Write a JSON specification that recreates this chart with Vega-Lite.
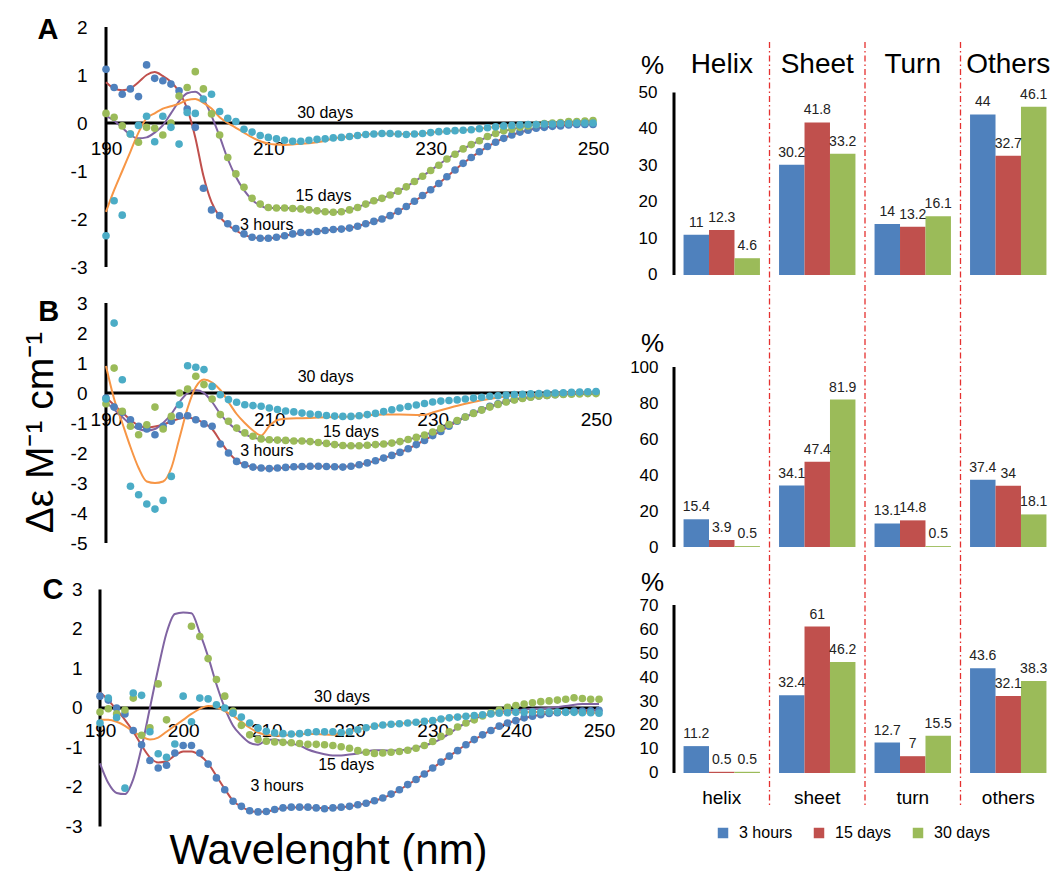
{
"$schema": "https://vega.github.io/schema/vega-lite/v6.json",
"padding": {"left": 20, "top": 15, "right": 0, "bottom": 0},
"background": "white",
"config": {"view": {"stroke": null}, "font": "Liberation Sans", "axis": {"labelColor": "black", "titleColor": "black", "labelFont": "Liberation Sans", "titleFont": "Liberation Sans", "labelOverlap": false}, "legend": {"labelFont": "Liberation Sans", "labelColor": "black"}, "text": {"font": "Liberation Sans"}},
"datasets": {
"cdA": [
{"s":"3h","x":190,"y":1.12},{"s":"3h","x":191,"y":0.74},{"s":"3h","x":192,"y":0.6},{"s":"3h","x":193,"y":0.71},{"s":"3h","x":194,"y":0.55},{"s":"3h","x":195,"y":1.21},{"s":"3h","x":196,"y":0.93},{"s":"3h","x":197,"y":0.88},{"s":"3h","x":198,"y":0.81},{"s":"3h","x":199,"y":0.67},{"s":"3h","x":200,"y":0.29},{"s":"3h","x":201,"y":-0.09},{"s":"3h","x":202,"y":-1.36},{"s":"3h","x":203,"y":-1.81},{"s":"3h","x":204,"y":-1.93},{"s":"3h","x":205,"y":-2.1},{"s":"3h","x":206,"y":-2.2},{"s":"3h","x":207,"y":-2.31},{"s":"3h","x":208,"y":-2.38},{"s":"3h","x":209,"y":-2.4},{"s":"3h","x":210,"y":-2.4},{"s":"3h","x":211,"y":-2.38},{"s":"3h","x":212,"y":-2.35},{"s":"3h","x":213,"y":-2.31},{"s":"3h","x":214,"y":-2.28},{"s":"3h","x":215,"y":-2.28},{"s":"3h","x":216,"y":-2.26},{"s":"3h","x":217,"y":-2.24},{"s":"3h","x":218,"y":-2.22},{"s":"3h","x":219,"y":-2.21},{"s":"3h","x":220,"y":-2.19},{"s":"3h","x":221,"y":-2.15},{"s":"3h","x":222,"y":-2.1},{"s":"3h","x":223,"y":-2.05},{"s":"3h","x":224,"y":-2.0},{"s":"3h","x":225,"y":-1.93},{"s":"3h","x":226,"y":-1.84},{"s":"3h","x":227,"y":-1.74},{"s":"3h","x":228,"y":-1.63},{"s":"3h","x":229,"y":-1.51},{"s":"3h","x":230,"y":-1.39},{"s":"3h","x":231,"y":-1.26},{"s":"3h","x":232,"y":-1.12},{"s":"3h","x":233,"y":-0.98},{"s":"3h","x":234,"y":-0.84},{"s":"3h","x":235,"y":-0.72},{"s":"3h","x":236,"y":-0.6},{"s":"3h","x":237,"y":-0.49},{"s":"3h","x":238,"y":-0.4},{"s":"3h","x":239,"y":-0.32},{"s":"3h","x":240,"y":-0.25},{"s":"3h","x":241,"y":-0.19},{"s":"3h","x":242,"y":-0.15},{"s":"3h","x":243,"y":-0.11},{"s":"3h","x":244,"y":-0.09},{"s":"3h","x":245,"y":-0.07},{"s":"3h","x":246,"y":-0.06},{"s":"3h","x":247,"y":-0.04},{"s":"3h","x":248,"y":-0.03},{"s":"3h","x":249,"y":-0.03},{"s":"3h","x":250,"y":-0.03},
{"s":"f3h","x":190,"y":0.85},{"s":"f3h","x":191,"y":0.72},{"s":"f3h","x":192,"y":0.68},{"s":"f3h","x":193,"y":0.72},{"s":"f3h","x":194,"y":0.85},{"s":"f3h","x":195,"y":1.0},{"s":"f3h","x":196,"y":1.06},{"s":"f3h","x":197,"y":0.98},{"s":"f3h","x":198,"y":0.86},{"s":"f3h","x":199,"y":0.65},{"s":"f3h","x":200,"y":0.3},{"s":"f3h","x":201,"y":-0.3},{"s":"f3h","x":202,"y":-1.1},{"s":"f3h","x":203,"y":-1.65},{"s":"f3h","x":204,"y":-1.95},{"s":"f3h","x":205,"y":-2.12},{"s":"f3h","x":206,"y":-2.24},{"s":"f3h","x":207,"y":-2.33},{"s":"f3h","x":208,"y":-2.38},{"s":"f3h","x":209,"y":-2.4},{"s":"f3h","x":210,"y":-2.4},{"s":"f3h","x":212,"y":-2.35},{"s":"f3h","x":214,"y":-2.29},{"s":"f3h","x":216,"y":-2.26},{"s":"f3h","x":218,"y":-2.22},{"s":"f3h","x":220,"y":-2.19},{"s":"f3h","x":222,"y":-2.1},{"s":"f3h","x":224,"y":-2.0},{"s":"f3h","x":226,"y":-1.84},{"s":"f3h","x":228,"y":-1.63},{"s":"f3h","x":230,"y":-1.39},{"s":"f3h","x":232,"y":-1.12},{"s":"f3h","x":234,"y":-0.84},{"s":"f3h","x":236,"y":-0.6},{"s":"f3h","x":238,"y":-0.4},{"s":"f3h","x":240,"y":-0.25},{"s":"f3h","x":242,"y":-0.15},{"s":"f3h","x":244,"y":-0.09},{"s":"f3h","x":246,"y":-0.06},{"s":"f3h","x":248,"y":-0.03},{"s":"f3h","x":250,"y":-0.03},
{"s":"15d","x":190,"y":0.2},{"s":"15d","x":191,"y":0.12},{"s":"15d","x":192,"y":-0.06},{"s":"15d","x":193,"y":-0.23},{"s":"15d","x":194,"y":-0.4},{"s":"15d","x":195,"y":-0.09},{"s":"15d","x":196,"y":-0.11},{"s":"15d","x":197,"y":-0.25},{"s":"15d","x":198,"y":0.0},{"s":"15d","x":199,"y":0.56},{"s":"15d","x":200,"y":0.74},{"s":"15d","x":201,"y":1.07},{"s":"15d","x":202,"y":0.71},{"s":"15d","x":203,"y":0.19},{"s":"15d","x":204,"y":-0.25},{"s":"15d","x":205,"y":-0.72},{"s":"15d","x":206,"y":-1.06},{"s":"15d","x":207,"y":-1.34},{"s":"15d","x":208,"y":-1.57},{"s":"15d","x":209,"y":-1.69},{"s":"15d","x":210,"y":-1.76},{"s":"15d","x":211,"y":-1.77},{"s":"15d","x":212,"y":-1.77},{"s":"15d","x":213,"y":-1.78},{"s":"15d","x":214,"y":-1.79},{"s":"15d","x":215,"y":-1.81},{"s":"15d","x":216,"y":-1.83},{"s":"15d","x":217,"y":-1.85},{"s":"15d","x":218,"y":-1.86},{"s":"15d","x":219,"y":-1.85},{"s":"15d","x":220,"y":-1.81},{"s":"15d","x":221,"y":-1.76},{"s":"15d","x":222,"y":-1.69},{"s":"15d","x":223,"y":-1.62},{"s":"15d","x":224,"y":-1.57},{"s":"15d","x":225,"y":-1.5},{"s":"15d","x":226,"y":-1.42},{"s":"15d","x":227,"y":-1.33},{"s":"15d","x":228,"y":-1.22},{"s":"15d","x":229,"y":-1.11},{"s":"15d","x":230,"y":-0.99},{"s":"15d","x":231,"y":-0.88},{"s":"15d","x":232,"y":-0.75},{"s":"15d","x":233,"y":-0.65},{"s":"15d","x":234,"y":-0.54},{"s":"15d","x":235,"y":-0.45},{"s":"15d","x":236,"y":-0.37},{"s":"15d","x":237,"y":-0.28},{"s":"15d","x":238,"y":-0.22},{"s":"15d","x":239,"y":-0.16},{"s":"15d","x":240,"y":-0.13},{"s":"15d","x":241,"y":-0.09},{"s":"15d","x":242,"y":-0.06},{"s":"15d","x":243,"y":-0.03},{"s":"15d","x":244,"y":-0.01},{"s":"15d","x":245,"y":0},{"s":"15d","x":246,"y":0.01},{"s":"15d","x":247,"y":0.03},{"s":"15d","x":248,"y":0.03},{"s":"15d","x":249,"y":0.04},{"s":"15d","x":250,"y":0.05},
{"s":"f15d","x":190,"y":0.15},{"s":"f15d","x":191,"y":0.05},{"s":"f15d","x":192,"y":-0.1},{"s":"f15d","x":193,"y":-0.25},{"s":"f15d","x":194,"y":-0.32},{"s":"f15d","x":195,"y":-0.3},{"s":"f15d","x":196,"y":-0.2},{"s":"f15d","x":197,"y":-0.05},{"s":"f15d","x":198,"y":0.2},{"s":"f15d","x":199,"y":0.45},{"s":"f15d","x":200,"y":0.62},{"s":"f15d","x":201,"y":0.65},{"s":"f15d","x":202,"y":0.5},{"s":"f15d","x":203,"y":0.15},{"s":"f15d","x":204,"y":-0.28},{"s":"f15d","x":205,"y":-0.75},{"s":"f15d","x":206,"y":-1.12},{"s":"f15d","x":207,"y":-1.4},{"s":"f15d","x":208,"y":-1.6},{"s":"f15d","x":209,"y":-1.72},{"s":"f15d","x":210,"y":-1.77},{"s":"f15d","x":212,"y":-1.77},{"s":"f15d","x":214,"y":-1.79},{"s":"f15d","x":216,"y":-1.83},{"s":"f15d","x":218,"y":-1.86},{"s":"f15d","x":220,"y":-1.81},{"s":"f15d","x":222,"y":-1.69},{"s":"f15d","x":224,"y":-1.57},{"s":"f15d","x":226,"y":-1.42},{"s":"f15d","x":228,"y":-1.22},{"s":"f15d","x":230,"y":-0.99},{"s":"f15d","x":232,"y":-0.75},{"s":"f15d","x":234,"y":-0.54},{"s":"f15d","x":236,"y":-0.37},{"s":"f15d","x":238,"y":-0.22},{"s":"f15d","x":240,"y":-0.13},{"s":"f15d","x":242,"y":-0.06},{"s":"f15d","x":244,"y":-0.01},{"s":"f15d","x":246,"y":0.01},{"s":"f15d","x":248,"y":0.03},{"s":"f15d","x":250,"y":0.05},
{"s":"30d","x":190,"y":-2.35},{"s":"30d","x":191,"y":-1.62},{"s":"30d","x":192,"y":-1.92},{"s":"30d","x":193,"y":-0.23},{"s":"30d","x":194,"y":-0.05},{"s":"30d","x":195,"y":0.14},{"s":"30d","x":196,"y":-0.39},{"s":"30d","x":197,"y":0.14},{"s":"30d","x":198,"y":-0.09},{"s":"30d","x":199,"y":-0.44},{"s":"30d","x":200,"y":0.22},{"s":"30d","x":201,"y":0.2},{"s":"30d","x":202,"y":0.5},{"s":"30d","x":203,"y":0.6},{"s":"30d","x":204,"y":0.24},{"s":"30d","x":205,"y":0.1},{"s":"30d","x":206,"y":0.03},{"s":"30d","x":207,"y":-0.13},{"s":"30d","x":208,"y":-0.19},{"s":"30d","x":209,"y":-0.26},{"s":"30d","x":210,"y":-0.3},{"s":"30d","x":211,"y":-0.33},{"s":"30d","x":212,"y":-0.36},{"s":"30d","x":213,"y":-0.38},{"s":"30d","x":214,"y":-0.38},{"s":"30d","x":215,"y":-0.36},{"s":"30d","x":216,"y":-0.34},{"s":"30d","x":217,"y":-0.33},{"s":"30d","x":218,"y":-0.31},{"s":"30d","x":219,"y":-0.3},{"s":"30d","x":220,"y":-0.28},{"s":"30d","x":221,"y":-0.26},{"s":"30d","x":222,"y":-0.24},{"s":"30d","x":223,"y":-0.23},{"s":"30d","x":224,"y":-0.22},{"s":"30d","x":225,"y":-0.22},{"s":"30d","x":226,"y":-0.23},{"s":"30d","x":227,"y":-0.24},{"s":"30d","x":228,"y":-0.23},{"s":"30d","x":229,"y":-0.22},{"s":"30d","x":230,"y":-0.2},{"s":"30d","x":231,"y":-0.18},{"s":"30d","x":232,"y":-0.17},{"s":"30d","x":233,"y":-0.16},{"s":"30d","x":234,"y":-0.15},{"s":"30d","x":235,"y":-0.14},{"s":"30d","x":236,"y":-0.12},{"s":"30d","x":237,"y":-0.1},{"s":"30d","x":238,"y":-0.08},{"s":"30d","x":239,"y":-0.06},{"s":"30d","x":240,"y":-0.05},{"s":"30d","x":241,"y":-0.04},{"s":"30d","x":242,"y":-0.03},{"s":"30d","x":243,"y":-0.03},{"s":"30d","x":244,"y":-0.02},{"s":"30d","x":245,"y":-0.02},{"s":"30d","x":246,"y":-0.01},{"s":"30d","x":247,"y":-0.01},{"s":"30d","x":248,"y":0},{"s":"30d","x":249,"y":0},{"s":"30d","x":250,"y":0},
{"s":"f30d","x":190,"y":-1.85},{"s":"f30d","x":191,"y":-1.4},{"s":"f30d","x":192,"y":-1.0},{"s":"f30d","x":193,"y":-0.6},{"s":"f30d","x":194,"y":-0.2},{"s":"f30d","x":195,"y":0.1},{"s":"f30d","x":196,"y":0.2},{"s":"f30d","x":197,"y":0.3},{"s":"f30d","x":198,"y":0.35},{"s":"f30d","x":199,"y":0.4},{"s":"f30d","x":200,"y":0.48},{"s":"f30d","x":201,"y":0.5},{"s":"f30d","x":202,"y":0.42},{"s":"f30d","x":203,"y":0.3},{"s":"f30d","x":204,"y":0.12},{"s":"f30d","x":205,"y":0.0},{"s":"f30d","x":206,"y":-0.1},{"s":"f30d","x":207,"y":-0.2},{"s":"f30d","x":208,"y":-0.3},{"s":"f30d","x":209,"y":-0.38},{"s":"f30d","x":210,"y":-0.43},{"s":"f30d","x":211,"y":-0.45},{"s":"f30d","x":212,"y":-0.46},{"s":"f30d","x":213,"y":-0.45},{"s":"f30d","x":214,"y":-0.43},{"s":"f30d","x":215,"y":-0.42},{"s":"f30d","x":216,"y":-0.4},{"s":"f30d","x":217,"y":-0.37},{"s":"f30d","x":218,"y":-0.32},{"s":"f30d","x":220,"y":-0.28},{"s":"f30d","x":222,"y":-0.24},{"s":"f30d","x":224,"y":-0.22},{"s":"f30d","x":226,"y":-0.23},{"s":"f30d","x":228,"y":-0.23},{"s":"f30d","x":230,"y":-0.2},{"s":"f30d","x":232,"y":-0.17},{"s":"f30d","x":234,"y":-0.15},{"s":"f30d","x":236,"y":-0.12},{"s":"f30d","x":238,"y":-0.08},{"s":"f30d","x":240,"y":-0.05},{"s":"f30d","x":243,"y":-0.03},{"s":"f30d","x":246,"y":-0.01},{"s":"f30d","x":250,"y":0}
],
"cdB": [
{"s":"3h","x":190,"y":-0.17},{"s":"3h","x":191,"y":-0.47},{"s":"3h","x":192,"y":-0.64},{"s":"3h","x":193,"y":-0.89},{"s":"3h","x":194,"y":-1.11},{"s":"3h","x":195,"y":-1.2},{"s":"3h","x":196,"y":-1.39},{"s":"3h","x":197,"y":-1.11},{"s":"3h","x":198,"y":-0.94},{"s":"3h","x":199,"y":-0.76},{"s":"3h","x":200,"y":-0.76},{"s":"3h","x":201,"y":-0.89},{"s":"3h","x":202,"y":-1.03},{"s":"3h","x":203,"y":-1.11},{"s":"3h","x":204,"y":-1.7},{"s":"3h","x":205,"y":-2.0},{"s":"3h","x":206,"y":-2.28},{"s":"3h","x":207,"y":-2.39},{"s":"3h","x":208,"y":-2.47},{"s":"3h","x":209,"y":-2.5},{"s":"3h","x":210,"y":-2.52},{"s":"3h","x":211,"y":-2.5},{"s":"3h","x":212,"y":-2.48},{"s":"3h","x":213,"y":-2.46},{"s":"3h","x":214,"y":-2.45},{"s":"3h","x":215,"y":-2.44},{"s":"3h","x":216,"y":-2.44},{"s":"3h","x":217,"y":-2.45},{"s":"3h","x":218,"y":-2.46},{"s":"3h","x":219,"y":-2.47},{"s":"3h","x":220,"y":-2.44},{"s":"3h","x":221,"y":-2.39},{"s":"3h","x":222,"y":-2.33},{"s":"3h","x":223,"y":-2.26},{"s":"3h","x":224,"y":-2.17},{"s":"3h","x":225,"y":-2.08},{"s":"3h","x":226,"y":-1.98},{"s":"3h","x":227,"y":-1.86},{"s":"3h","x":228,"y":-1.72},{"s":"3h","x":229,"y":-1.58},{"s":"3h","x":230,"y":-1.42},{"s":"3h","x":231,"y":-1.28},{"s":"3h","x":232,"y":-1.11},{"s":"3h","x":233,"y":-0.94},{"s":"3h","x":234,"y":-0.8},{"s":"3h","x":235,"y":-0.67},{"s":"3h","x":236,"y":-0.56},{"s":"3h","x":237,"y":-0.44},{"s":"3h","x":238,"y":-0.36},{"s":"3h","x":239,"y":-0.28},{"s":"3h","x":240,"y":-0.22},{"s":"3h","x":241,"y":-0.17},{"s":"3h","x":242,"y":-0.13},{"s":"3h","x":243,"y":-0.1},{"s":"3h","x":244,"y":-0.08},{"s":"3h","x":245,"y":-0.06},{"s":"3h","x":246,"y":-0.03},{"s":"3h","x":247,"y":-0.02},{"s":"3h","x":248,"y":-0.01},{"s":"3h","x":249,"y":0},{"s":"3h","x":250,"y":0.02},
{"s":"f3h","x":190,"y":-0.15},{"s":"f3h","x":191,"y":-0.4},{"s":"f3h","x":192,"y":-0.65},{"s":"f3h","x":193,"y":-0.9},{"s":"f3h","x":194,"y":-1.08},{"s":"f3h","x":195,"y":-1.15},{"s":"f3h","x":196,"y":-1.12},{"s":"f3h","x":197,"y":-1.05},{"s":"f3h","x":198,"y":-0.95},{"s":"f3h","x":199,"y":-0.85},{"s":"f3h","x":200,"y":-0.82},{"s":"f3h","x":201,"y":-0.88},{"s":"f3h","x":202,"y":-1.0},{"s":"f3h","x":203,"y":-1.2},{"s":"f3h","x":204,"y":-1.6},{"s":"f3h","x":205,"y":-1.98},{"s":"f3h","x":206,"y":-2.25},{"s":"f3h","x":207,"y":-2.4},{"s":"f3h","x":208,"y":-2.47},{"s":"f3h","x":209,"y":-2.5},{"s":"f3h","x":210,"y":-2.52},{"s":"f3h","x":212,"y":-2.48},{"s":"f3h","x":214,"y":-2.45},{"s":"f3h","x":216,"y":-2.44},{"s":"f3h","x":218,"y":-2.46},{"s":"f3h","x":220,"y":-2.44},{"s":"f3h","x":222,"y":-2.33},{"s":"f3h","x":224,"y":-2.17},{"s":"f3h","x":226,"y":-1.98},{"s":"f3h","x":228,"y":-1.72},{"s":"f3h","x":230,"y":-1.42},{"s":"f3h","x":232,"y":-1.11},{"s":"f3h","x":234,"y":-0.8},{"s":"f3h","x":236,"y":-0.56},{"s":"f3h","x":238,"y":-0.36},{"s":"f3h","x":240,"y":-0.22},{"s":"f3h","x":242,"y":-0.13},{"s":"f3h","x":244,"y":-0.08},{"s":"f3h","x":246,"y":-0.03},{"s":"f3h","x":248,"y":-0.01},{"s":"f3h","x":250,"y":0.02},
{"s":"15d","x":190,"y":-0.36},{"s":"15d","x":191,"y":0.83},{"s":"15d","x":192,"y":-0.61},{"s":"15d","x":193,"y":-1.11},{"s":"15d","x":194,"y":-1.39},{"s":"15d","x":195,"y":-1.06},{"s":"15d","x":196,"y":-0.47},{"s":"15d","x":197,"y":-1.2},{"s":"15d","x":198,"y":-0.78},{"s":"15d","x":199,"y":0},{"s":"15d","x":200,"y":0.13},{"s":"15d","x":201,"y":0.56},{"s":"15d","x":202,"y":0.28},{"s":"15d","x":203,"y":-0.2},{"s":"15d","x":204,"y":-0.72},{"s":"15d","x":205,"y":-0.94},{"s":"15d","x":206,"y":-1.17},{"s":"15d","x":207,"y":-1.33},{"s":"15d","x":208,"y":-1.44},{"s":"15d","x":209,"y":-1.53},{"s":"15d","x":210,"y":-1.56},{"s":"15d","x":211,"y":-1.57},{"s":"15d","x":212,"y":-1.58},{"s":"15d","x":213,"y":-1.6},{"s":"15d","x":214,"y":-1.6},{"s":"15d","x":215,"y":-1.62},{"s":"15d","x":216,"y":-1.65},{"s":"15d","x":217,"y":-1.68},{"s":"15d","x":218,"y":-1.72},{"s":"15d","x":219,"y":-1.75},{"s":"15d","x":220,"y":-1.76},{"s":"15d","x":221,"y":-1.76},{"s":"15d","x":222,"y":-1.74},{"s":"15d","x":223,"y":-1.72},{"s":"15d","x":224,"y":-1.7},{"s":"15d","x":225,"y":-1.67},{"s":"15d","x":226,"y":-1.62},{"s":"15d","x":227,"y":-1.55},{"s":"15d","x":228,"y":-1.48},{"s":"15d","x":229,"y":-1.4},{"s":"15d","x":230,"y":-1.3},{"s":"15d","x":231,"y":-1.18},{"s":"15d","x":232,"y":-1.05},{"s":"15d","x":233,"y":-0.92},{"s":"15d","x":234,"y":-0.8},{"s":"15d","x":235,"y":-0.68},{"s":"15d","x":236,"y":-0.57},{"s":"15d","x":237,"y":-0.47},{"s":"15d","x":238,"y":-0.38},{"s":"15d","x":239,"y":-0.3},{"s":"15d","x":240,"y":-0.23},{"s":"15d","x":241,"y":-0.18},{"s":"15d","x":242,"y":-0.14},{"s":"15d","x":243,"y":-0.1},{"s":"15d","x":244,"y":-0.08},{"s":"15d","x":245,"y":-0.06},{"s":"15d","x":246,"y":-0.05},{"s":"15d","x":247,"y":-0.04},{"s":"15d","x":248,"y":-0.03},{"s":"15d","x":249,"y":-0.02},{"s":"15d","x":250,"y":-0.02},
{"s":"f15d","x":190,"y":-0.3},{"s":"f15d","x":191,"y":-0.55},{"s":"f15d","x":192,"y":-0.8},{"s":"f15d","x":193,"y":-1.05},{"s":"f15d","x":194,"y":-1.2},{"s":"f15d","x":195,"y":-1.25},{"s":"f15d","x":196,"y":-1.2},{"s":"f15d","x":197,"y":-1.0},{"s":"f15d","x":198,"y":-0.7},{"s":"f15d","x":199,"y":-0.3},{"s":"f15d","x":200,"y":0.0},{"s":"f15d","x":201,"y":0.1},{"s":"f15d","x":202,"y":0.0},{"s":"f15d","x":203,"y":-0.3},{"s":"f15d","x":204,"y":-0.7},{"s":"f15d","x":205,"y":-1.0},{"s":"f15d","x":206,"y":-1.22},{"s":"f15d","x":207,"y":-1.38},{"s":"f15d","x":208,"y":-1.48},{"s":"f15d","x":209,"y":-1.54},{"s":"f15d","x":210,"y":-1.56},{"s":"f15d","x":212,"y":-1.58},{"s":"f15d","x":214,"y":-1.6},{"s":"f15d","x":216,"y":-1.65},{"s":"f15d","x":218,"y":-1.72},{"s":"f15d","x":220,"y":-1.76},{"s":"f15d","x":222,"y":-1.74},{"s":"f15d","x":224,"y":-1.7},{"s":"f15d","x":226,"y":-1.62},{"s":"f15d","x":228,"y":-1.48},{"s":"f15d","x":230,"y":-1.3},{"s":"f15d","x":232,"y":-1.05},{"s":"f15d","x":234,"y":-0.8},{"s":"f15d","x":236,"y":-0.57},{"s":"f15d","x":238,"y":-0.38},{"s":"f15d","x":240,"y":-0.23},{"s":"f15d","x":242,"y":-0.14},{"s":"f15d","x":244,"y":-0.08},{"s":"f15d","x":246,"y":-0.05},{"s":"f15d","x":248,"y":-0.03},{"s":"f15d","x":250,"y":-0.02},
{"s":"30d","x":190,"y":-0.2},{"s":"30d","x":191,"y":2.33},{"s":"30d","x":192,"y":0.44},{"s":"30d","x":193,"y":-3.11},{"s":"30d","x":194,"y":-3.39},{"s":"30d","x":195,"y":-3.7},{"s":"30d","x":196,"y":-3.87},{"s":"30d","x":197,"y":-3.58},{"s":"30d","x":198,"y":-2.78},{"s":"30d","x":199,"y":-0.39},{"s":"30d","x":200,"y":0.91},{"s":"30d","x":201,"y":0.86},{"s":"30d","x":202,"y":0.78},{"s":"30d","x":203,"y":0.22},{"s":"30d","x":204,"y":-0.06},{"s":"30d","x":205,"y":-0.22},{"s":"30d","x":206,"y":-0.31},{"s":"30d","x":207,"y":-0.39},{"s":"30d","x":208,"y":-0.42},{"s":"30d","x":209,"y":-0.44},{"s":"30d","x":210,"y":-0.5},{"s":"30d","x":211,"y":-0.55},{"s":"30d","x":212,"y":-0.6},{"s":"30d","x":213,"y":-0.63},{"s":"30d","x":214,"y":-0.67},{"s":"30d","x":215,"y":-0.7},{"s":"30d","x":216,"y":-0.72},{"s":"30d","x":217,"y":-0.75},{"s":"30d","x":218,"y":-0.77},{"s":"30d","x":219,"y":-0.78},{"s":"30d","x":220,"y":-0.78},{"s":"30d","x":221,"y":-0.76},{"s":"30d","x":222,"y":-0.72},{"s":"30d","x":223,"y":-0.68},{"s":"30d","x":224,"y":-0.62},{"s":"30d","x":225,"y":-0.56},{"s":"30d","x":226,"y":-0.5},{"s":"30d","x":227,"y":-0.45},{"s":"30d","x":228,"y":-0.4},{"s":"30d","x":229,"y":-0.35},{"s":"30d","x":230,"y":-0.3},{"s":"30d","x":231,"y":-0.27},{"s":"30d","x":232,"y":-0.25},{"s":"30d","x":233,"y":-0.23},{"s":"30d","x":234,"y":-0.2},{"s":"30d","x":235,"y":-0.17},{"s":"30d","x":236,"y":-0.14},{"s":"30d","x":237,"y":-0.11},{"s":"30d","x":238,"y":-0.09},{"s":"30d","x":239,"y":-0.07},{"s":"30d","x":240,"y":-0.05},{"s":"30d","x":241,"y":-0.04},{"s":"30d","x":242,"y":-0.03},{"s":"30d","x":243,"y":-0.02},{"s":"30d","x":244,"y":-0.01},{"s":"30d","x":245,"y":0},{"s":"30d","x":246,"y":0.01},{"s":"30d","x":247,"y":0.02},{"s":"30d","x":248,"y":0.03},{"s":"30d","x":249,"y":0.04},{"s":"30d","x":250,"y":0.05},
{"s":"f30d","x":190,"y":0.9},{"s":"f30d","x":191,"y":-0.2},{"s":"f30d","x":192,"y":-1.0},{"s":"f30d","x":193,"y":-1.8},{"s":"f30d","x":194,"y":-2.5},{"s":"f30d","x":195,"y":-2.95},{"s":"f30d","x":196,"y":-3.0},{"s":"f30d","x":197,"y":-2.95},{"s":"f30d","x":198,"y":-2.5},{"s":"f30d","x":199,"y":-1.5},{"s":"f30d","x":200,"y":-0.5},{"s":"f30d","x":201,"y":0.2},{"s":"f30d","x":202,"y":0.45},{"s":"f30d","x":203,"y":0.35},{"s":"f30d","x":204,"y":0.1},{"s":"f30d","x":205,"y":-0.3},{"s":"f30d","x":206,"y":-0.7},{"s":"f30d","x":207,"y":-1.0},{"s":"f30d","x":208,"y":-1.25},{"s":"f30d","x":209,"y":-1.42},{"s":"f30d","x":210,"y":-1.1},{"s":"f30d","x":211,"y":-0.9},{"s":"f30d","x":212,"y":-0.86},{"s":"f30d","x":214,"y":-0.84},{"s":"f30d","x":216,"y":-0.82},{"s":"f30d","x":218,"y":-0.8},{"s":"f30d","x":220,"y":-0.78},{"s":"f30d","x":222,"y":-0.74},{"s":"f30d","x":224,"y":-0.72},{"s":"f30d","x":226,"y":-0.72},{"s":"f30d","x":228,"y":-0.73},{"s":"f30d","x":229,"y":-0.73},{"s":"f30d","x":230,"y":-0.65},{"s":"f30d","x":232,"y":-0.5},{"s":"f30d","x":234,"y":-0.36},{"s":"f30d","x":236,"y":-0.24},{"s":"f30d","x":238,"y":-0.15},{"s":"f30d","x":240,"y":-0.08},{"s":"f30d","x":243,"y":-0.03},{"s":"f30d","x":246,"y":0},{"s":"f30d","x":250,"y":0.03}
],
"cdC": [
{"s":"3h","x":190,"y":0.3},{"s":"3h","x":191,"y":0.2},{"s":"3h","x":192,"y":0.0},{"s":"3h","x":193,"y":-0.15},{"s":"3h","x":194,"y":-0.57},{"s":"3h","x":195,"y":-0.93},{"s":"3h","x":196,"y":-1.33},{"s":"3h","x":197,"y":-1.52},{"s":"3h","x":198,"y":-1.45},{"s":"3h","x":199,"y":-1.14},{"s":"3h","x":200,"y":-0.95},{"s":"3h","x":201,"y":-0.95},{"s":"3h","x":202,"y":-1.14},{"s":"3h","x":203,"y":-1.42},{"s":"3h","x":204,"y":-1.77},{"s":"3h","x":205,"y":-2.07},{"s":"3h","x":206,"y":-2.36},{"s":"3h","x":207,"y":-2.49},{"s":"3h","x":208,"y":-2.6},{"s":"3h","x":209,"y":-2.63},{"s":"3h","x":210,"y":-2.62},{"s":"3h","x":211,"y":-2.57},{"s":"3h","x":212,"y":-2.53},{"s":"3h","x":213,"y":-2.51},{"s":"3h","x":214,"y":-2.51},{"s":"3h","x":215,"y":-2.51},{"s":"3h","x":216,"y":-2.53},{"s":"3h","x":217,"y":-2.55},{"s":"3h","x":218,"y":-2.53},{"s":"3h","x":219,"y":-2.51},{"s":"3h","x":220,"y":-2.49},{"s":"3h","x":221,"y":-2.45},{"s":"3h","x":222,"y":-2.41},{"s":"3h","x":223,"y":-2.35},{"s":"3h","x":224,"y":-2.28},{"s":"3h","x":225,"y":-2.18},{"s":"3h","x":226,"y":-2.07},{"s":"3h","x":227,"y":-1.94},{"s":"3h","x":228,"y":-1.81},{"s":"3h","x":229,"y":-1.67},{"s":"3h","x":230,"y":-1.52},{"s":"3h","x":231,"y":-1.37},{"s":"3h","x":232,"y":-1.22},{"s":"3h","x":233,"y":-1.08},{"s":"3h","x":234,"y":-0.93},{"s":"3h","x":235,"y":-0.8},{"s":"3h","x":236,"y":-0.68},{"s":"3h","x":237,"y":-0.57},{"s":"3h","x":238,"y":-0.46},{"s":"3h","x":239,"y":-0.38},{"s":"3h","x":240,"y":-0.32},{"s":"3h","x":241,"y":-0.25},{"s":"3h","x":242,"y":-0.21},{"s":"3h","x":243,"y":-0.17},{"s":"3h","x":244,"y":-0.14},{"s":"3h","x":245,"y":-0.12},{"s":"3h","x":246,"y":-0.1},{"s":"3h","x":247,"y":-0.08},{"s":"3h","x":248,"y":-0.08},{"s":"3h","x":249,"y":-0.07},{"s":"3h","x":250,"y":-0.06},
{"s":"f3h","x":190,"y":0.4},{"s":"f3h","x":191,"y":0.2},{"s":"f3h","x":192,"y":-0.05},{"s":"f3h","x":193,"y":-0.3},{"s":"f3h","x":194,"y":-0.6},{"s":"f3h","x":195,"y":-0.95},{"s":"f3h","x":196,"y":-1.25},{"s":"f3h","x":197,"y":-1.38},{"s":"f3h","x":198,"y":-1.35},{"s":"f3h","x":199,"y":-1.2},{"s":"f3h","x":200,"y":-1.1},{"s":"f3h","x":201,"y":-1.1},{"s":"f3h","x":202,"y":-1.2},{"s":"f3h","x":203,"y":-1.4},{"s":"f3h","x":204,"y":-1.72},{"s":"f3h","x":205,"y":-2.05},{"s":"f3h","x":206,"y":-2.35},{"s":"f3h","x":207,"y":-2.5},{"s":"f3h","x":208,"y":-2.6},{"s":"f3h","x":209,"y":-2.63},{"s":"f3h","x":210,"y":-2.62},{"s":"f3h","x":212,"y":-2.53},{"s":"f3h","x":214,"y":-2.51},{"s":"f3h","x":216,"y":-2.53},{"s":"f3h","x":218,"y":-2.53},{"s":"f3h","x":220,"y":-2.49},{"s":"f3h","x":222,"y":-2.41},{"s":"f3h","x":224,"y":-2.28},{"s":"f3h","x":226,"y":-2.07},{"s":"f3h","x":228,"y":-1.81},{"s":"f3h","x":230,"y":-1.52},{"s":"f3h","x":232,"y":-1.22},{"s":"f3h","x":234,"y":-0.93},{"s":"f3h","x":236,"y":-0.68},{"s":"f3h","x":238,"y":-0.46},{"s":"f3h","x":240,"y":-0.32},{"s":"f3h","x":242,"y":-0.21},{"s":"f3h","x":244,"y":-0.14},{"s":"f3h","x":246,"y":-0.1},{"s":"f3h","x":248,"y":-0.08},{"s":"f3h","x":250,"y":-0.06},
{"s":"15d","x":190,"y":-0.1},{"s":"15d","x":191,"y":-0.02},{"s":"15d","x":192,"y":-0.15},{"s":"15d","x":193,"y":-0.05},{"s":"15d","x":194,"y":0.25},{"s":"15d","x":195,"y":-0.69},{"s":"15d","x":196,"y":-0.5},{"s":"15d","x":197,"y":0.61},{"s":"15d","x":198,"y":-0.3},{"s":"15d","x":201,"y":2.07},{"s":"15d","x":202,"y":1.81},{"s":"15d","x":203,"y":1.25},{"s":"15d","x":204,"y":0.72},{"s":"15d","x":205,"y":0.3},{"s":"15d","x":206,"y":-0.08},{"s":"15d","x":207,"y":-0.44},{"s":"15d","x":208,"y":-0.68},{"s":"15d","x":209,"y":-0.8},{"s":"15d","x":210,"y":-0.84},{"s":"15d","x":211,"y":-0.86},{"s":"15d","x":212,"y":-0.87},{"s":"15d","x":213,"y":-0.88},{"s":"15d","x":214,"y":-0.9},{"s":"15d","x":215,"y":-0.92},{"s":"15d","x":216,"y":-0.92},{"s":"15d","x":217,"y":-0.93},{"s":"15d","x":218,"y":-0.95},{"s":"15d","x":219,"y":-0.98},{"s":"15d","x":220,"y":-1.02},{"s":"15d","x":221,"y":-1.08},{"s":"15d","x":222,"y":-1.12},{"s":"15d","x":223,"y":-1.15},{"s":"15d","x":224,"y":-1.14},{"s":"15d","x":225,"y":-1.12},{"s":"15d","x":226,"y":-1.1},{"s":"15d","x":227,"y":-1.07},{"s":"15d","x":228,"y":-1.02},{"s":"15d","x":229,"y":-0.95},{"s":"15d","x":230,"y":-0.85},{"s":"15d","x":231,"y":-0.72},{"s":"15d","x":232,"y":-0.6},{"s":"15d","x":233,"y":-0.48},{"s":"15d","x":234,"y":-0.38},{"s":"15d","x":235,"y":-0.3},{"s":"15d","x":236,"y":-0.2},{"s":"15d","x":237,"y":-0.12},{"s":"15d","x":238,"y":-0.05},{"s":"15d","x":239,"y":0.02},{"s":"15d","x":240,"y":0.06},{"s":"15d","x":241,"y":0.1},{"s":"15d","x":242,"y":0.13},{"s":"15d","x":243,"y":0.16},{"s":"15d","x":244,"y":0.18},{"s":"15d","x":245,"y":0.2},{"s":"15d","x":246,"y":0.22},{"s":"15d","x":247,"y":0.26},{"s":"15d","x":248,"y":0.24},{"s":"15d","x":249,"y":0.22},{"s":"15d","x":250,"y":0.22},
{"s":"f15d","x":190,"y":-1.4},{"s":"f15d","x":191,"y":-1.9},{"s":"f15d","x":192,"y":-2.15},{"s":"f15d","x":193,"y":-2.18},{"s":"f15d","x":194,"y":-1.8},{"s":"f15d","x":195,"y":-1.0},{"s":"f15d","x":196,"y":0.0},{"s":"f15d","x":197,"y":1.0},{"s":"f15d","x":198,"y":1.9},{"s":"f15d","x":199,"y":2.38},{"s":"f15d","x":200,"y":2.42},{"s":"f15d","x":201,"y":2.4},{"s":"f15d","x":202,"y":1.9},{"s":"f15d","x":203,"y":1.3},{"s":"f15d","x":204,"y":0.6},{"s":"f15d","x":205,"y":0.0},{"s":"f15d","x":206,"y":-0.45},{"s":"f15d","x":207,"y":-0.7},{"s":"f15d","x":208,"y":-0.88},{"s":"f15d","x":209,"y":-0.93},{"s":"f15d","x":210,"y":-0.82},{"s":"f15d","x":211,"y":-0.8},{"s":"f15d","x":212,"y":-0.85},{"s":"f15d","x":213,"y":-0.9},{"s":"f15d","x":214,"y":-0.95},{"s":"f15d","x":215,"y":-1.05},{"s":"f15d","x":216,"y":-1.12},{"s":"f15d","x":217,"y":-1.17},{"s":"f15d","x":218,"y":-1.2},{"s":"f15d","x":219,"y":-1.2},{"s":"f15d","x":220,"y":-1.18},{"s":"f15d","x":221,"y":-1.15},{"s":"f15d","x":222,"y":-1.1},{"s":"f15d","x":223,"y":-1.07},{"s":"f15d","x":224,"y":-1.07},{"s":"f15d","x":225,"y":-1.08},{"s":"f15d","x":226,"y":-1.07},{"s":"f15d","x":227,"y":-1.05},{"s":"f15d","x":228,"y":-1.0},{"s":"f15d","x":229,"y":-0.95},{"s":"f15d","x":230,"y":-0.88},{"s":"f15d","x":231,"y":-0.78},{"s":"f15d","x":232,"y":-0.65},{"s":"f15d","x":233,"y":-0.5},{"s":"f15d","x":234,"y":-0.38},{"s":"f15d","x":235,"y":-0.28},{"s":"f15d","x":236,"y":-0.2},{"s":"f15d","x":237,"y":-0.15},{"s":"f15d","x":238,"y":-0.1},{"s":"f15d","x":240,"y":-0.06},{"s":"f15d","x":242,"y":-0.02},{"s":"f15d","x":244,"y":0.0},{"s":"f15d","x":246,"y":0.05},{"s":"f15d","x":248,"y":0.1},{"s":"f15d","x":250,"y":0.1},
{"s":"30d","x":190,"y":-0.38},{"s":"30d","x":191,"y":0.25},{"s":"30d","x":192,"y":-0.24},{"s":"30d","x":193,"y":-2.03},{"s":"30d","x":194,"y":0.38},{"s":"30d","x":195,"y":0.32},{"s":"30d","x":196,"y":-0.6},{"s":"30d","x":197,"y":-1.16},{"s":"30d","x":198,"y":-1.25},{"s":"30d","x":199,"y":-0.91},{"s":"30d","x":200,"y":0.3},{"s":"30d","x":201,"y":-0.35},{"s":"30d","x":202,"y":0.25},{"s":"30d","x":203,"y":0.23},{"s":"30d","x":204,"y":0.08},{"s":"30d","x":205,"y":0},{"s":"30d","x":206,"y":-0.13},{"s":"30d","x":207,"y":-0.23},{"s":"30d","x":208,"y":-0.38},{"s":"30d","x":209,"y":-0.51},{"s":"30d","x":210,"y":-0.59},{"s":"30d","x":211,"y":-0.63},{"s":"30d","x":212,"y":-0.65},{"s":"30d","x":213,"y":-0.66},{"s":"30d","x":214,"y":-0.65},{"s":"30d","x":215,"y":-0.62},{"s":"30d","x":216,"y":-0.6},{"s":"30d","x":217,"y":-0.6},{"s":"30d","x":218,"y":-0.6},{"s":"30d","x":219,"y":-0.62},{"s":"30d","x":220,"y":-0.6},{"s":"30d","x":221,"y":-0.55},{"s":"30d","x":222,"y":-0.5},{"s":"30d","x":223,"y":-0.46},{"s":"30d","x":224,"y":-0.43},{"s":"30d","x":225,"y":-0.41},{"s":"30d","x":226,"y":-0.4},{"s":"30d","x":227,"y":-0.38},{"s":"30d","x":228,"y":-0.36},{"s":"30d","x":229,"y":-0.34},{"s":"30d","x":230,"y":-0.32},{"s":"30d","x":231,"y":-0.28},{"s":"30d","x":232,"y":-0.25},{"s":"30d","x":233,"y":-0.23},{"s":"30d","x":234,"y":-0.21},{"s":"30d","x":235,"y":-0.19},{"s":"30d","x":236,"y":-0.17},{"s":"30d","x":237,"y":-0.15},{"s":"30d","x":238,"y":-0.13},{"s":"30d","x":239,"y":-0.12},{"s":"30d","x":240,"y":-0.11},{"s":"30d","x":241,"y":-0.11},{"s":"30d","x":242,"y":-0.1},{"s":"30d","x":243,"y":-0.1},{"s":"30d","x":244,"y":-0.1},{"s":"30d","x":245,"y":-0.1},{"s":"30d","x":246,"y":-0.11},{"s":"30d","x":247,"y":-0.11},{"s":"30d","x":248,"y":-0.12},{"s":"30d","x":249,"y":-0.12},{"s":"30d","x":250,"y":-0.13},
{"s":"f30d","x":190,"y":-0.3},{"s":"f30d","x":191,"y":-0.3},{"s":"f30d","x":192,"y":-0.35},{"s":"f30d","x":193,"y":-0.45},{"s":"f30d","x":194,"y":-0.6},{"s":"f30d","x":195,"y":-0.72},{"s":"f30d","x":196,"y":-0.8},{"s":"f30d","x":197,"y":-0.75},{"s":"f30d","x":198,"y":-0.6},{"s":"f30d","x":199,"y":-0.45},{"s":"f30d","x":200,"y":-0.3},{"s":"f30d","x":201,"y":-0.15},{"s":"f30d","x":202,"y":-0.02},{"s":"f30d","x":203,"y":0.05},{"s":"f30d","x":204,"y":0.02},{"s":"f30d","x":205,"y":-0.08},{"s":"f30d","x":206,"y":-0.2},{"s":"f30d","x":207,"y":-0.35},{"s":"f30d","x":208,"y":-0.5},{"s":"f30d","x":209,"y":-0.62},{"s":"f30d","x":210,"y":-0.68},{"s":"f30d","x":211,"y":-0.7},{"s":"f30d","x":212,"y":-0.7},{"s":"f30d","x":214,"y":-0.66},{"s":"f30d","x":216,"y":-0.66},{"s":"f30d","x":218,"y":-0.68},{"s":"f30d","x":220,"y":-0.6},{"s":"f30d","x":222,"y":-0.5},{"s":"f30d","x":224,"y":-0.43},{"s":"f30d","x":226,"y":-0.4},{"s":"f30d","x":228,"y":-0.36},{"s":"f30d","x":230,"y":-0.32},{"s":"f30d","x":232,"y":-0.25},{"s":"f30d","x":234,"y":-0.21},{"s":"f30d","x":236,"y":-0.17},{"s":"f30d","x":238,"y":-0.13},{"s":"f30d","x":240,"y":-0.11},{"s":"f30d","x":243,"y":-0.1},{"s":"f30d","x":246,"y":-0.11},{"s":"f30d","x":250,"y":-0.13}
],
"bars": [
{"p":"A","c":"helix","t":"3 hours","v":11},{"p":"A","c":"helix","t":"15 days","v":12.3},{"p":"A","c":"helix","t":"30 days","v":4.6},
{"p":"A","c":"sheet","t":"3 hours","v":30.2},{"p":"A","c":"sheet","t":"15 days","v":41.8},{"p":"A","c":"sheet","t":"30 days","v":33.2},
{"p":"A","c":"turn","t":"3 hours","v":14},{"p":"A","c":"turn","t":"15 days","v":13.2},{"p":"A","c":"turn","t":"30 days","v":16.1},
{"p":"A","c":"others","t":"3 hours","v":44},{"p":"A","c":"others","t":"15 days","v":32.7},{"p":"A","c":"others","t":"30 days","v":46.1},
{"p":"B","c":"helix","t":"3 hours","v":15.4},{"p":"B","c":"helix","t":"15 days","v":3.9},{"p":"B","c":"helix","t":"30 days","v":0.5},
{"p":"B","c":"sheet","t":"3 hours","v":34.1},{"p":"B","c":"sheet","t":"15 days","v":47.4},{"p":"B","c":"sheet","t":"30 days","v":81.9},
{"p":"B","c":"turn","t":"3 hours","v":13.1},{"p":"B","c":"turn","t":"15 days","v":14.8},{"p":"B","c":"turn","t":"30 days","v":0.5},
{"p":"B","c":"others","t":"3 hours","v":37.4},{"p":"B","c":"others","t":"15 days","v":34},{"p":"B","c":"others","t":"30 days","v":18.1},
{"p":"C","c":"helix","t":"3 hours","v":11.2},{"p":"C","c":"helix","t":"15 days","v":0.5},{"p":"C","c":"helix","t":"30 days","v":0.5},
{"p":"C","c":"sheet","t":"3 hours","v":32.4},{"p":"C","c":"sheet","t":"15 days","v":61},{"p":"C","c":"sheet","t":"30 days","v":46.2},
{"p":"C","c":"turn","t":"3 hours","v":12.7},{"p":"C","c":"turn","t":"15 days","v":7},{"p":"C","c":"turn","t":"30 days","v":15.5},
{"p":"C","c":"others","t":"3 hours","v":43.6},{"p":"C","c":"others","t":"15 days","v":32.1},{"p":"C","c":"others","t":"30 days","v":38.3}
]
},
"columns": 2,
"spacing": {"row": 0, "column": 75},
"bounds": "flush",
"align": "each",
"resolve": {"scale": {"color": "independent"}},
"concat": [
{
"width": 493, "height": 270,
"data": {"name": "cdA"},
"layer": [
{"data": {"values": [{}]}, "mark": {"type": "rule", "color": "black", "strokeWidth": 3}, "encoding": {"x": {"datum": 190, "type": "quantitative"}, "x2": {"datum": 250}, "y": {"datum": 0, "type": "quantitative"}}},
{"data": {"values": [{}]}, "mark": {"type": "rule", "color": "black", "strokeWidth": 3}, "encoding": {"x": {"datum": 190, "type": "quantitative"}, "y": {"datum": -3, "type": "quantitative"}, "y2": {"datum": 2}}},
{"transform": [{"filter": {"field": "s", "oneOf": ["f3h", "f15d", "f30d"]}}], "mark": {"type": "line", "strokeWidth": 2, "interpolate": "monotone"},
 "encoding": {"x": {"field": "x", "type": "quantitative", "scale": {"domain": [189.26, 250], "nice": false, "zero": false}, "axis": {"orient": "bottom", "offset": -162, "values": [190, 210, 230, 250], "tickCount": 30, "domain": false, "ticks": false, "grid": false, "labelFontSize": 19, "labelPadding": 16, "labelFlush": false, "labelOverlap": false, "labelExpr": "datum.value", "title": null}},
  "y": {"field": "y", "type": "quantitative", "scale": {"domain": [-3.375, 2.25], "nice": false, "zero": false}, "axis": {"values": [-3, -2, -1, 0, 1, 2], "tickCount": 30, "domain": false, "ticks": false, "grid": false, "labelFontSize": 19, "labelPadding": 13, "labelOverlap": false, "labelExpr": "datum.value", "title": null}},
  "color": {"field": "s", "type": "nominal", "scale": {"domain": ["3h", "15d", "30d", "f3h", "f15d", "f30d"], "range": ["#4F81BD", "#9BBB59", "#4BACC6", "#C0504D", "#8064A2", "#F79646"]}, "legend": null}}},
{"transform": [{"filter": {"field": "s", "oneOf": ["3h", "15d", "30d"]}}], "mark": {"type": "circle", "size": 58, "opacity": 1},
 "encoding": {"x": {"field": "x", "type": "quantitative"}, "y": {"field": "y", "type": "quantitative"}, "color": {"field": "s", "type": "nominal", "legend": null}}},
{"data": {"values": [{"x": 217, "y": 0.21, "t": "30 days"}, {"x": 216.8, "y": -1.52, "t": "15 days"}, {"x": 209.8, "y": -2.125, "t": "3 hours"}]}, "mark": {"type": "text", "fontSize": 16, "color": "black"},
 "encoding": {"x": {"field": "x", "type": "quantitative"}, "y": {"field": "y", "type": "quantitative"}, "text": {"field": "t"}}},
{"data": {"values": [{"x": 182.85, "y": 1.94, "t": "A"}]}, "mark": {"type": "text", "fontSize": 29, "fontWeight": "bold", "color": "black"},
 "encoding": {"x": {"field": "x", "type": "quantitative"}, "y": {"field": "y", "type": "quantitative"}, "text": {"field": "t"}}}
]
},
{
"width": 382, "height": 270,
"layer": [
{"data": {"values": [{"c": "sheet"}, {"c": "turn"}, {"c": "others"}]}, "mark": {"type": "rule", "color": "#E5302F", "strokeWidth": 1.3, "strokeDash": [6, 3, 1.5, 3]},
 "encoding": {"x": {"field": "c", "type": "nominal", "bandPosition": -0.125, "scale": {"type": "band", "domain": ["helix", "sheet", "turn", "others"], "paddingInner": 0.2, "paddingOuter": 0.1}, "axis": null}, "y": {"datum": 63.84, "type": "quantitative", "scale": {"domain": [-2.74, 71.23], "nice": false, "zero": false}}, "y2": {"datum": -2.74}}},
{"data": {"values": [{"c": "helix"}]}, "mark": {"type": "rule", "color": "black", "strokeWidth": 3},
 "encoding": {"x": {"field": "c", "type": "nominal", "bandPosition": -0.125, "axis": null}, "y": {"datum": 0, "type": "quantitative"}, "y2": {"datum": 50}}},
{"data": {"name": "bars"}, "transform": [{"filter": "datum.p == 'A'"}], "mark": {"type": "bar"},
 "encoding": {"x": {"field": "c", "type": "nominal", "axis": null}, "xOffset": {"field": "t", "type": "nominal", "scale": {"domain": ["3 hours", "15 days", "30 days"], "paddingInner": 0, "paddingOuter": 0}},
  "y": {"field": "v", "type": "quantitative", "stack": null, "axis": {"values": [0, 10, 20, 30, 40, 50], "tickCount": 30, "domain": false, "ticks": false, "grid": false, "labelFontSize": 17, "labelPadding": 17, "labelOverlap": false, "title": "%", "titleAngle": 0, "titleFontSize": 26, "titleFontWeight": "normal", "titleX": -22, "titleY": 50, "titleAlign": "center", "titleBaseline": "middle"}},
  "y2": {"datum": 0},
  "color": {"field": "t", "type": "nominal", "scale": {"domain": ["3 hours", "15 days", "30 days"], "range": ["#4F81BD", "#C0504D", "#9BBB59"]}, "legend": null}}},
{"data": {"name": "bars"}, "transform": [{"filter": "datum.p == 'A'"}], "mark": {"type": "text", "fontSize": 14, "dy": -12, "color": "#222222"},
 "encoding": {"x": {"field": "c", "type": "nominal", "axis": null}, "xOffset": {"field": "t", "type": "nominal"}, "y": {"field": "v", "type": "quantitative"}, "text": {"field": "v", "type": "nominal"}}},
{"data": {"values": [{"c": "helix", "t": "Helix"}, {"c": "sheet", "t": "Sheet"}, {"c": "turn", "t": "Turn"}, {"c": "others", "t": "Others"}]}, "mark": {"type": "text", "fontSize": 28, "color": "black"},
 "encoding": {"x": {"field": "c", "type": "nominal", "axis": null}, "y": {"datum": 57.53, "type": "quantitative"}, "text": {"field": "t"}}}
]
},
{
"width": 496, "height": 280,
"data": {"name": "cdB"},
"layer": [
{"data": {"values": [{}]}, "mark": {"type": "rule", "color": "black", "strokeWidth": 3}, "encoding": {"x": {"datum": 190, "type": "quantitative"}, "x2": {"datum": 250}, "y": {"datum": 0, "type": "quantitative"}}},
{"data": {"values": [{}]}, "mark": {"type": "rule", "color": "black", "strokeWidth": 3}, "encoding": {"x": {"datum": 190, "type": "quantitative"}, "y": {"datum": -5, "type": "quantitative"}, "y2": {"datum": 3}}},
{"transform": [{"filter": {"field": "s", "oneOf": ["f3h", "f15d", "f30d"]}}], "mark": {"type": "line", "strokeWidth": 2, "interpolate": "monotone"},
 "encoding": {"x": {"field": "x", "type": "quantitative", "scale": {"domain": [189.27, 250], "nice": false, "zero": false}, "axis": {"orient": "bottom", "offset": -172, "values": [190, 210, 230, 250], "tickCount": 30, "domain": false, "ticks": false, "grid": false, "labelFontSize": 19, "labelPadding": 17, "labelFlush": false, "labelOverlap": false, "labelExpr": "datum.value", "title": null}},
  "y": {"field": "y", "type": "quantitative", "scale": {"domain": [-5.733, 3.6], "nice": false, "zero": false}, "axis": {"values": [-5, -4, -3, -2, -1, 0, 1, 2, 3], "tickCount": 30, "domain": false, "ticks": false, "grid": false, "labelFontSize": 19, "labelPadding": 13, "labelOverlap": false, "labelExpr": "datum.value", "title": "Δε M⁻¹ cm⁻¹", "titleFontSize": 39, "titleFontWeight": "normal", "titleAngle": -90, "titleX": -60, "titleY": 147, "titleAlign": "center", "titleBaseline": "middle"}},
  "color": {"field": "s", "type": "nominal", "scale": {"domain": ["3h", "15d", "30d", "f3h", "f15d", "f30d"], "range": ["#4F81BD", "#9BBB59", "#4BACC6", "#C0504D", "#8064A2", "#F79646"]}, "legend": null}}},
{"transform": [{"filter": {"field": "s", "oneOf": ["3h", "15d", "30d"]}}], "mark": {"type": "circle", "size": 58, "opacity": 1},
 "encoding": {"x": {"field": "x", "type": "quantitative"}, "y": {"field": "y", "type": "quantitative"}, "color": {"field": "s", "type": "nominal", "legend": null}}},
{"data": {"values": [{"x": 216.9, "y": 0.54, "t": "30 days"}, {"x": 220, "y": -1.29, "t": "15 days"}, {"x": 209.7, "y": -1.92, "t": "3 hours"}]}, "mark": {"type": "text", "fontSize": 16, "color": "black"},
 "encoding": {"x": {"field": "x", "type": "quantitative"}, "y": {"field": "y", "type": "quantitative"}, "text": {"field": "t"}}},
{"data": {"values": [{"x": 183.0, "y": 2.7, "t": "B"}]}, "mark": {"type": "text", "fontSize": 29, "fontWeight": "bold", "color": "black"},
 "encoding": {"x": {"field": "x", "type": "quantitative"}, "y": {"field": "y", "type": "quantitative"}, "text": {"field": "t"}}}
]
},
{
"width": 382, "height": 280,
"layer": [
{"data": {"values": [{"c": "sheet"}, {"c": "turn"}, {"c": "others"}]}, "mark": {"type": "rule", "color": "#E5302F", "strokeWidth": 1.3, "strokeDash": [6, 3, 1.5, 3]},
 "encoding": {"x": {"field": "c", "type": "nominal", "bandPosition": -0.125, "scale": {"type": "band", "domain": ["helix", "sheet", "turn", "others"], "paddingInner": 0.2, "paddingOuter": 0.1}, "axis": null}, "y": {"datum": 145.56, "type": "quantitative", "scale": {"domain": [-10, 145.56], "nice": false, "zero": false}}, "y2": {"datum": -10}}},
{"data": {"values": [{"c": "helix"}]}, "mark": {"type": "rule", "color": "black", "strokeWidth": 3},
 "encoding": {"x": {"field": "c", "type": "nominal", "bandPosition": -0.125, "axis": null}, "y": {"datum": 0, "type": "quantitative"}, "y2": {"datum": 100}}},
{"data": {"name": "bars"}, "transform": [{"filter": "datum.p == 'B'"}], "mark": {"type": "bar"},
 "encoding": {"x": {"field": "c", "type": "nominal", "axis": null}, "xOffset": {"field": "t", "type": "nominal", "scale": {"domain": ["3 hours", "15 days", "30 days"], "paddingInner": 0, "paddingOuter": 0}},
  "y": {"field": "v", "type": "quantitative", "stack": null, "axis": {"values": [0, 20, 40, 60, 80, 100], "tickCount": 30, "domain": false, "ticks": false, "grid": false, "labelFontSize": 17, "labelPadding": 16, "labelOverlap": false, "title": "%", "titleAngle": 0, "titleFontSize": 26, "titleFontWeight": "normal", "titleX": -22, "titleY": 58, "titleAlign": "center", "titleBaseline": "middle"}},
  "y2": {"datum": 0},
  "color": {"field": "t", "type": "nominal", "scale": {"domain": ["3 hours", "15 days", "30 days"], "range": ["#4F81BD", "#C0504D", "#9BBB59"]}, "legend": null}}},
{"data": {"name": "bars"}, "transform": [{"filter": "datum.p == 'B'"}], "mark": {"type": "text", "fontSize": 14, "dy": -12, "color": "#222222"},
 "encoding": {"x": {"field": "c", "type": "nominal", "axis": null}, "xOffset": {"field": "t", "type": "nominal"}, "y": {"field": "v", "type": "quantitative"}, "text": {"field": "v", "type": "nominal"}}}
]
},
{
"width": 499, "height": 275,
"data": {"name": "cdC"},
"layer": [
{"data": {"values": [{}]}, "mark": {"type": "rule", "color": "black", "strokeWidth": 3}, "encoding": {"x": {"datum": 190, "type": "quantitative"}, "x2": {"datum": 250}, "y": {"datum": 0, "type": "quantitative"}}},
{"data": {"values": [{}]}, "mark": {"type": "rule", "color": "black", "strokeWidth": 3}, "encoding": {"x": {"datum": 190, "type": "quantitative"}, "y": {"datum": -3, "type": "quantitative"}, "y2": {"datum": 3}}},
{"transform": [{"filter": {"field": "s", "oneOf": ["f3h", "f15d", "f30d"]}}], "mark": {"type": "line", "strokeWidth": 2, "interpolate": "monotone"},
 "encoding": {"x": {"field": "x", "type": "quantitative", "scale": {"domain": [190, 250], "nice": false, "zero": false}, "axis": {"orient": "bottom", "offset": -132, "values": [190, 200, 210, 220, 230, 240, 250], "tickCount": 30, "domain": false, "ticks": false, "grid": false, "labelFontSize": 19, "labelPadding": 13, "labelFlush": false, "labelOverlap": false, "labelExpr": "datum.value", "title": "Wavelenght (nm)", "titleFontSize": 42, "titleFontWeight": "normal", "titleX": 228, "titleY": 142, "titleAlign": "center", "titleBaseline": "middle"}},
  "y": {"field": "y", "type": "quantitative", "scale": {"domain": [-3.342, 3.62], "nice": false, "zero": false}, "axis": {"values": [-3, -2, -1, 0, 1, 2, 3], "tickCount": 30, "domain": false, "ticks": false, "grid": false, "labelFontSize": 19, "labelPadding": 18, "labelOverlap": false, "labelExpr": "datum.value", "title": null}},
  "color": {"field": "s", "type": "nominal", "scale": {"domain": ["3h", "15d", "30d", "f3h", "f15d", "f30d"], "range": ["#4F81BD", "#9BBB59", "#4BACC6", "#C0504D", "#8064A2", "#F79646"]}, "legend": null}}},
{"transform": [{"filter": {"field": "s", "oneOf": ["3h", "15d", "30d"]}}], "mark": {"type": "circle", "size": 58, "opacity": 1},
 "encoding": {"x": {"field": "x", "type": "quantitative"}, "y": {"field": "y", "type": "quantitative"}, "color": {"field": "s", "type": "nominal", "legend": null}}},
{"data": {"values": [{"x": 219.1, "y": 0.29, "t": "30 days"}, {"x": 219.6, "y": -1.44, "t": "15 days"}, {"x": 211.3, "y": -1.97, "t": "3 hours"}]}, "mark": {"type": "text", "fontSize": 16, "color": "black"},
 "encoding": {"x": {"field": "x", "type": "quantitative"}, "y": {"field": "y", "type": "quantitative"}, "text": {"field": "t"}}},
{"data": {"values": [{"x": 184.35, "y": 2.99, "t": "C"}]}, "mark": {"type": "text", "fontSize": 29, "fontWeight": "bold", "color": "black"},
 "encoding": {"x": {"field": "x", "type": "quantitative"}, "y": {"field": "y", "type": "quantitative"}, "text": {"field": "t"}}}
]
},
{
"width": 382, "height": 275,
"layer": [
{"data": {"values": [{"c": "sheet"}, {"c": "turn"}, {"c": "others"}]}, "mark": {"type": "rule", "color": "#E5302F", "strokeWidth": 1.3, "strokeDash": [6, 3, 1.5, 3]},
 "encoding": {"x": {"field": "c", "type": "nominal", "bandPosition": -0.125, "scale": {"type": "band", "domain": ["helix", "sheet", "turn", "others"], "paddingInner": 0.2, "paddingOuter": 0.1}, "axis": null}, "y": {"datum": 86.67, "type": "quantitative", "scale": {"domain": [-27.92, 86.67], "nice": false, "zero": false}}, "y2": {"datum": -14.58}}},
{"data": {"values": [{"c": "helix"}]}, "mark": {"type": "rule", "color": "black", "strokeWidth": 3},
 "encoding": {"x": {"field": "c", "type": "nominal", "bandPosition": -0.125, "axis": null}, "y": {"datum": 0, "type": "quantitative"}, "y2": {"datum": 70}}},
{"data": {"name": "bars"}, "transform": [{"filter": "datum.p == 'C'"}], "mark": {"type": "bar"},
 "encoding": {"x": {"field": "c", "type": "nominal", "axis": null}, "xOffset": {"field": "t", "type": "nominal", "scale": {"domain": ["3 hours", "15 days", "30 days"], "paddingInner": 0, "paddingOuter": 0}},
  "y": {"field": "v", "type": "quantitative", "stack": null, "axis": {"values": [0, 10, 20, 30, 40, 50, 60, 70], "tickCount": 30, "domain": false, "ticks": false, "grid": false, "labelFontSize": 17, "labelPadding": 16, "labelOverlap": false, "title": "%", "titleAngle": 0, "titleFontSize": 26, "titleFontWeight": "normal", "titleX": -22, "titleY": 17, "titleAlign": "center", "titleBaseline": "middle"}},
  "y2": {"datum": 0},
  "color": {"field": "t", "type": "nominal", "scale": {"domain": ["3 hours", "15 days", "30 days"], "range": ["#4F81BD", "#C0504D", "#9BBB59"]}, "legend": {"orient": "none", "legendX": 41, "legendY": 260, "direction": "horizontal", "title": null, "symbolType": "square", "symbolSize": 110, "symbolStrokeWidth": 0, "labelFontSize": 16, "labelOffset": 8, "columnPadding": 18, "padding": 0}}}},
{"data": {"name": "bars"}, "transform": [{"filter": "datum.p == 'C'"}], "mark": {"type": "text", "fontSize": 14, "dy": -12, "color": "#222222"},
 "encoding": {"x": {"field": "c", "type": "nominal", "axis": null}, "xOffset": {"field": "t", "type": "nominal"}, "y": {"field": "v", "type": "quantitative"}, "text": {"field": "v", "type": "nominal"}}},
{"data": {"values": [{"c": "helix", "t": "helix"}, {"c": "sheet", "t": "sheet"}, {"c": "turn", "t": "turn"}, {"c": "others", "t": "others"}]}, "mark": {"type": "text", "fontSize": 19, "color": "black"},
 "encoding": {"x": {"field": "c", "type": "nominal", "axis": null}, "y": {"datum": -10.42, "type": "quantitative"}, "text": {"field": "t"}}}
]
}
]
}
